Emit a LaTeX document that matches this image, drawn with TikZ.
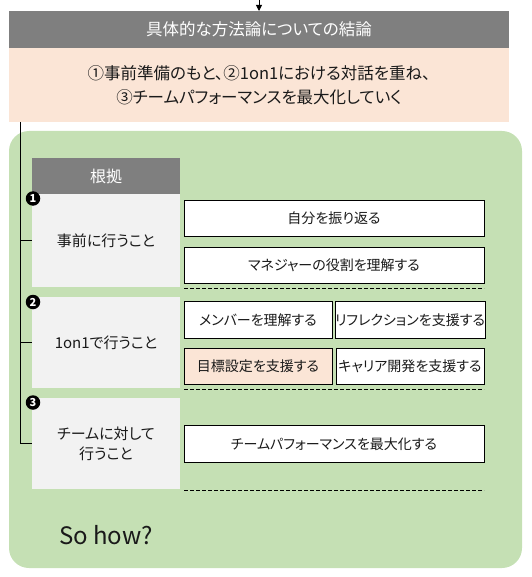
\documentclass[tikz,border=0pt]{standalone}
\usepackage{fontspec}
\setmainfont{Noto Sans CJK JP}[RawFeature={+palt}]
\usetikzlibrary{arrows.meta}
\definecolor{hdrgray}{HTML}{7F7F7F}
\definecolor{peach}{HTML}{FBE5D6}
\definecolor{leaf}{HTML}{C5E0B4}
\definecolor{pale}{HTML}{F2F2F2}
\definecolor{ink}{HTML}{1A1A1A}
\tikzset{
  plain/.style={inner sep=0pt, outer sep=0pt, align=center, text=ink},
  hdr/.style={plain, fill=hdrgray, text=white},
  sidebox/.style={plain, fill=pale, minimum width=148, font=\fontsize{15}{20}\selectfont},
  itembox/.style={plain, draw=black, line width=0.8pt, fill=white, minimum height=36.5, font=\fontsize{14}{17}\selectfont},
  wide/.style={itembox, minimum width=300},
  half/.style={itembox, minimum width=148},
  numdot/.style={circle, fill=black, text=white, inner sep=0pt, minimum size=14.5, font=\bfseries\fontsize{11}{11}\selectfont},
  sep/.style={dashed, dash pattern=on 4pt off 2pt, line width=0.7pt},
  link/.style={line width=0.8pt, draw=black}
}
\begin{document}
\begin{tikzpicture}[x=1pt,y=-1pt]
\useasboundingbox (0,0) rectangle (531,577);
% top header and conclusion
\node[hdr, minimum width=500, minimum height=37, font=\fontsize{16.5}{20}\selectfont] (header) at (259,29.5) {具体的な方法論についての結論};
\node[plain, fill=peach, minimum width=500, minimum height=74, font=\fontsize{16.5}{24}\selectfont] (concl) at (259,85) {①事前準備のもと、②1on1における対話を重ね、\\③チームパフォーマンスを最大化していく};
\coordinate (incoming) at (259,0);
\draw[link, -{Triangle[width=6pt,length=6pt]}] (incoming) -- (header.north);
% green panel
\node[plain, fill=leaf, rounded corners=20pt, minimum width=513, minimum height=437] (panel) at (265.5,349.5) {};
% left column
\node[hdr, minimum width=148, minimum height=36, font=\fontsize{16}{20}\selectfont] (konkyo) at (106,176) {根拠};
\node[sidebox, minimum height=93] (b1) at (106,240.5) {事前に行うこと};
\node[sidebox, minimum height=91] (b2) at (106,342.5) {1on1で行うこと};
\node[sidebox, minimum height=91] (b3) at (106,443.5) {チームに対して\\行うこと};
\node[numdot] (n1) at (33,198.5) {1};
\node[numdot] (n2) at (33,302) {2};
\node[numdot] (n3) at (33,402.5) {3};
% right items
\node[wide] (r1) at (334,218.5) {自分を振り返る};
\node[wide] (r2) at (334,265.5) {マネジャーの役割を理解する};
\node[half] (r3) at (258,320) {メンバーを理解する};
\node[half] (r4) at (410,320) {リフレクションを支援する};
\node[half, fill=peach] (r5) at (258,366.5) {目標設定を支援する};
\node[half] (r6) at (410,366.5) {キャリア開発を支援する};
\node[wide] (r7) at (334,444) {チームパフォーマンスを最大化する};
% dashed separators
\draw[sep] (184,288) -- (484,288);
\draw[sep] (184,389) -- (484,389);
\draw[sep] (184,490) -- (484,490);
% bracket line
\coordinate (vtop) at (20,122);
\draw[link] (vtop) |- (b3.west);
\draw[link] (vtop |- b1.west) -- (b1.west);
\draw[link] (vtop |- b2.west) -- (b2.west);
% so how
\node[plain, font=\fontsize{24}{28}\selectfont] (sohow) at (106,535) {So how?};
\end{tikzpicture}
\end{document}
